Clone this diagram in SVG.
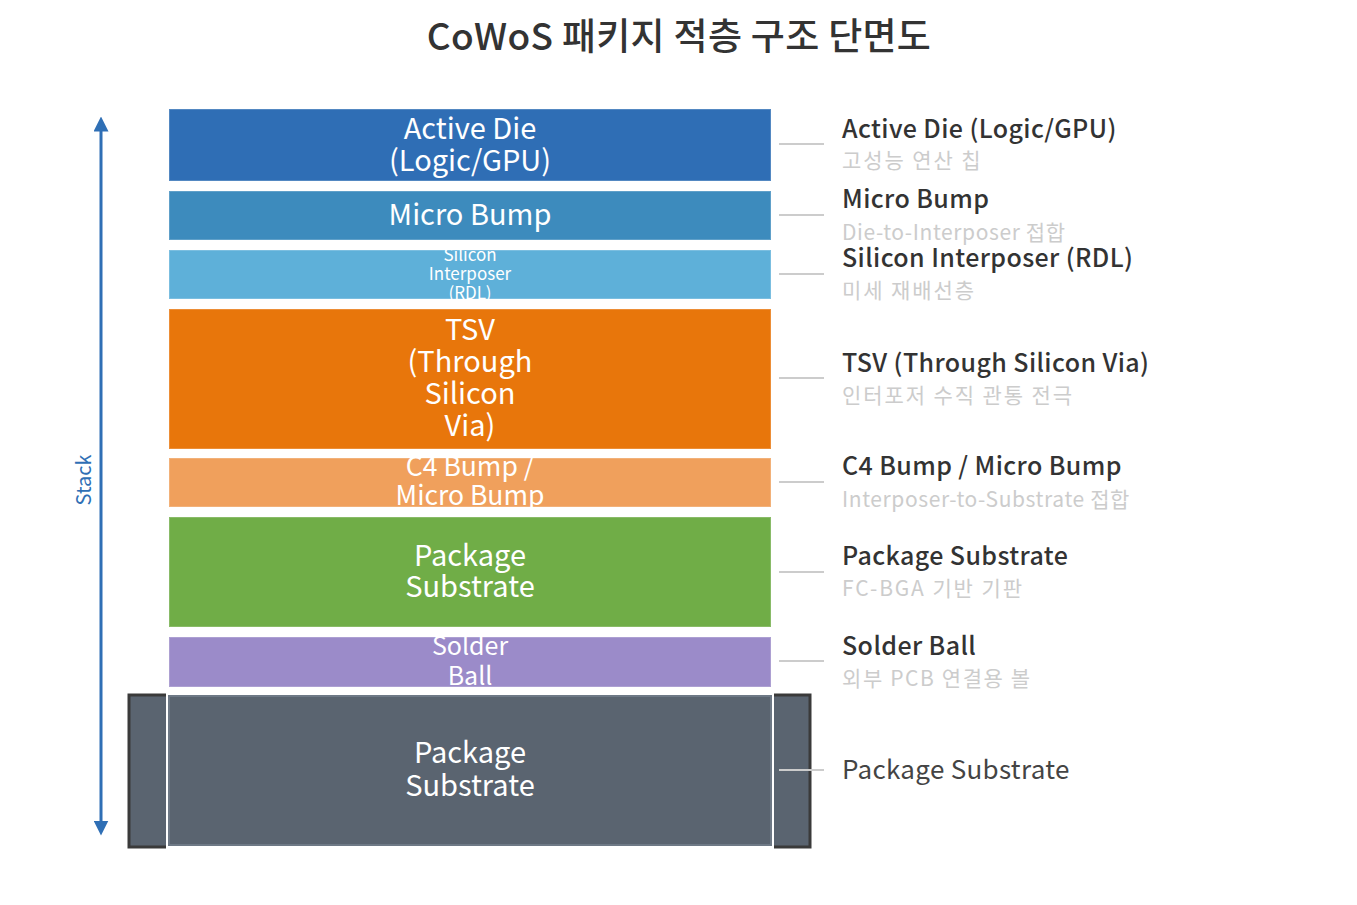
<svg xmlns="http://www.w3.org/2000/svg" width="1357" height="905" viewBox="0 0 1357 905">
<style>
text{font-family:"Noto Sans CJK KR","Noto Sans",sans-serif;}
.title{font-size:37px;fill:#333333;font-weight:500;letter-spacing:0.3px;}
.box{stroke:rgba(255,255,255,0.18);stroke-width:2;}
.bt{fill:#ffffff;font-size:29px;text-anchor:middle;}
.lt{fill:#333333;font-size:25px;font-weight:500;letter-spacing:0.4px;}
.ls{fill:#cccccc;font-size:21px;letter-spacing:0.6px;}
.lk{letter-spacing:1.9px;}
.conn{stroke:#cccccc;stroke-width:2;fill:none;}
</style>
<defs>
<marker id="ah" viewBox="0 0 10 10" refX="5" refY="5" markerWidth="5" markerHeight="5" orient="auto-start-reverse" markerUnits="strokeWidth">
<path d="M0,0 L10,5 L0,10 z" fill="#2f6fb5"/>
</marker>
<clipPath id="c3"><rect x="169" y="250" width="602" height="49"/></clipPath>
<clipPath id="c5"><rect x="169" y="458" width="602" height="49"/></clipPath>
<clipPath id="c7"><rect x="169" y="637" width="602" height="50"/></clipPath>
</defs>
<rect width="1357" height="905" fill="#ffffff"/>
<text class="title" x="679" y="50" text-anchor="middle">CoWoS 패키지 적층 구조 단면도</text>

<g id="stack-axis">
<line x1="101" y1="124" x2="101" y2="828" stroke="#2f6fb5" stroke-width="3" marker-start="url(#ah)" marker-end="url(#ah)"/>
<text x="91" y="480" transform="rotate(-90 91 480)" text-anchor="middle" font-size="20" fill="#2f6fb5">Stack</text>
</g>

<g id="base-brackets">
<rect x="129" y="695" width="37" height="152" fill="#5a6470"/>
<path d="M166,695 H129 V847 H166" fill="none" stroke="#3a3a3a" stroke-width="3"/>
<rect x="774" y="695" width="36" height="152" fill="#5a6470"/>
<path d="M774,695 H810 V847 H774" fill="none" stroke="#3a3a3a" stroke-width="3"/>
</g>

<g id="connectors">
<line class="conn" x1="779" y1="144" x2="824" y2="144"/>
<line class="conn" x1="779" y1="215" x2="824" y2="215"/>
<line class="conn" x1="779" y1="274" x2="824" y2="274"/>
<line class="conn" x1="779" y1="378" x2="824" y2="378"/>
<line class="conn" x1="779" y1="482" x2="824" y2="482"/>
<line class="conn" x1="779" y1="572" x2="824" y2="572"/>
<line class="conn" x1="779" y1="661" x2="824" y2="661"/>
<line class="conn" x1="779" y1="770" x2="824" y2="770"/>
</g>

<g id="active-die">
<rect class="box" x="169" y="109" width="602" height="72" fill="#2f6eb5"/>
<text class="bt" x="470" y="139">Active Die</text>
<text class="bt" x="470" y="171">(Logic/GPU)</text>
<text class="lt" x="842" y="138">Active Die (Logic/GPU)</text>
<text class="ls lk" x="842" y="168">고성능 연산 칩</text>
</g>

<g id="micro-bump">
<rect class="box" x="169" y="191" width="602" height="49" fill="#3d8bbd"/>
<text class="bt" x="470" y="225">Micro Bump</text>
<text class="lt" x="842" y="208">Micro Bump</text>
<text class="ls" x="842" y="240">Die-to-Interposer 접합</text>
</g>

<g id="interposer">
<rect class="box" x="169" y="250" width="602" height="49" fill="#5eb0d9"/>
<g clip-path="url(#c3)">
<text class="bt" x="470" y="261" style="font-size:17px">Silicon</text>
<text class="bt" x="470" y="280" style="font-size:17px">Interposer</text>
<text class="bt" x="470" y="299" style="font-size:17px">(RDL)</text>
</g>
<text class="lt" x="842" y="267">Silicon Interposer (RDL)</text>
<text class="ls lk" x="842" y="298">미세 재배선층</text>
</g>

<g id="tsv">
<rect class="box" x="169" y="309" width="602" height="140" fill="#e8760b"/>
<text class="bt" x="470" y="340">TSV</text>
<text class="bt" x="470" y="372">(Through</text>
<text class="bt" x="470" y="404">Silicon</text>
<text class="bt" x="470" y="436">Via)</text>
<text class="lt" x="842" y="372">TSV (Through Silicon Via)</text>
<text class="ls lk" x="842" y="403">인터포저 수직 관통 전극</text>
</g>

<g id="c4-bump">
<rect class="box" x="169" y="458" width="602" height="49" fill="#f0a05c"/>
<g clip-path="url(#c5)">
<text class="bt" x="470" y="476" style="font-size:26.5px">C4 Bump /</text>
<text class="bt" x="470" y="505" style="font-size:26.5px">Micro Bump</text>
</g>
<text class="lt" x="842" y="475">C4 Bump / Micro Bump</text>
<text class="ls" x="842" y="507">Interposer-to-Substrate 접합</text>
</g>

<g id="package-substrate">
<rect class="box" x="169" y="517" width="602" height="110" fill="#70ad47"/>
<text class="bt" x="470" y="566">Package</text>
<text class="bt" x="470" y="597">Substrate</text>
<text class="lt" x="842" y="565">Package Substrate</text>
<text class="ls lk" x="842" y="596">FC-BGA 기반 기판</text>
</g>

<g id="solder-ball">
<rect class="box" x="169" y="637" width="602" height="50" fill="#9b8bc9"/>
<g clip-path="url(#c7)">
<text class="bt" x="470" y="655" style="font-size:25px">Solder</text>
<text class="bt" x="470" y="685" style="font-size:25px">Ball</text>
</g>
<text class="lt" x="842" y="655">Solder Ball</text>
<text class="ls" x="842" y="686" style="letter-spacing:1.6px">외부 PCB 연결용 볼</text>
</g>

<g id="base-substrate">
<rect x="169" y="696" width="602" height="149" fill="#5a6470" stroke="#6e7986" stroke-width="2"/>
<text class="bt" x="470" y="763">Package</text>
<text class="bt" x="470" y="796">Substrate</text>
<text x="842" y="779" font-size="26" fill="#444444" letter-spacing="0.3">Package Substrate</text>
</g>
</svg>
